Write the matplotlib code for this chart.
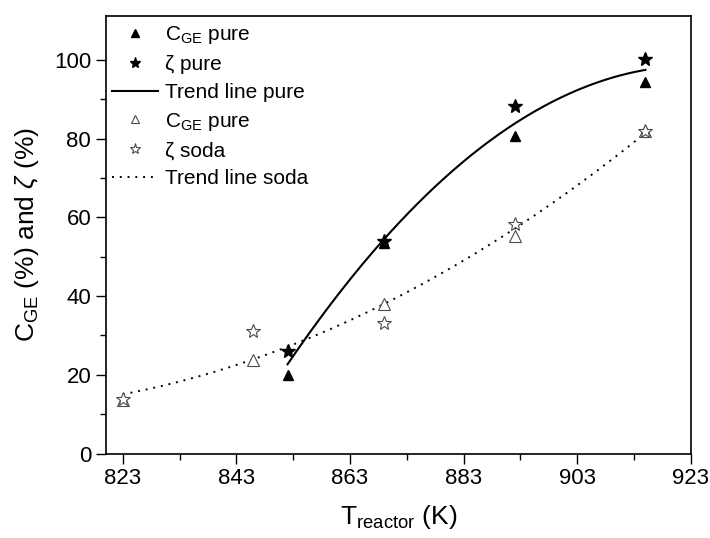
import numpy as np
import matplotlib
matplotlib.use("Agg")
import matplotlib.pyplot as plt
from matplotlib.ticker import FixedLocator

plt.rcParams["font.family"] = ["Liberation Sans", "DejaVu Sans"]
plt.rcParams["mathtext.fontset"] = "custom"
plt.rcParams["mathtext.rm"] = "Liberation Sans"
plt.rcParams["mathtext.it"] = "Liberation Sans:italic"

# Reactor temperature (K)
temp_pure = [852, 869, 892, 915]
temp_soda = [823, 846, 869, 892, 915]

# Conversion C_GE and yield zeta (%)
cge_pure = [19.9, 53.5, 80.8, 94.3]
zeta_pure = [26.1, 54.0, 88.2, 100.3]
cge_soda = [13.5, 23.7, 38.0, 55.3, 82.0]
zeta_soda = [13.9, 31.2, 33.3, 58.4, 82.0]

xticks = [823, 843, 863, 883, 903, 923]
xminor = [833, 853, 873, 893, 913]
yticks = [0, 20, 40, 60, 80, 100]
yminor = [10, 30, 50, 70, 90]

fig = plt.figure(figsize=(7.1, 5.38), dpi=100)
ax = fig.add_axes([0.149, 0.157, 0.824, 0.814])

# Quadratic trend lines through both quantities of each series
p_pure = np.polyfit(temp_pure * 2, cge_pure + zeta_pure, 2)
p_soda = np.polyfit(temp_soda * 2, cge_soda + zeta_soda, 2)
tp = np.linspace(min(temp_pure), max(temp_pure), 200)
ts = np.linspace(min(temp_soda), max(temp_soda), 200)

gray = "#4a4a4a"
h1, = ax.plot(temp_pure, cge_pure, ls="none", marker="^", ms=7.5, color="black",
              label="C$_{\\mathrm{GE}}$ pure", zorder=3)
h2, = ax.plot(temp_pure, zeta_pure, ls="none", marker="*", ms=10, color="black",
              label="ζ pure", zorder=3)
h3, = ax.plot(tp, np.polyval(p_pure, tp), color="black", lw=1.5,
              label="Trend line pure", zorder=2)
h4, = ax.plot(temp_soda, cge_soda, ls="none", marker="^", ms=8, mfc="white",
              mec=gray, mew=0.8, label="C$_{\\mathrm{GE}}$ pure", zorder=3)
h5, = ax.plot(temp_soda, zeta_soda, ls="none", marker="*", ms=10, mfc="white",
              mec=gray, mew=0.8, label="ζ soda", zorder=3)
h6, = ax.plot(ts, np.polyval(p_soda, ts), color="black", lw=1.4, ls=(0, (1, 3)),
              label="Trend line soda", zorder=2)

ax.set_xlim(820, 923)
ax.set_ylim(0, 111.3)
ax.xaxis.set_major_locator(FixedLocator(xticks))
ax.xaxis.set_minor_locator(FixedLocator(xminor))
ax.yaxis.set_major_locator(FixedLocator(yticks))
ax.yaxis.set_minor_locator(FixedLocator(yminor))
ax.tick_params(which="major", direction="out", length=7, width=1.0,
               labelsize=16, top=False, right=False)
ax.tick_params(which="minor", direction="out", length=4, width=1.0,
               top=False, right=False)
for s in ax.spines.values():
    s.set_linewidth(1.2)

ax.set_xlabel("T$_{\\mathrm{reactor}}$ (K)", fontsize=19, labelpad=10)
ax.set_ylabel("C$_{\\mathrm{GE}}$ (%) and $\\zeta$ (%)", fontsize=19, labelpad=9)

ax.legend(handles=[h1, h2, h3, h4, h5, h6], loc="upper left",
          bbox_to_anchor=(0.011, 0.98), frameon=False, fontsize=15,
          handlelength=2.2, handletextpad=0.35, labelspacing=0.42,
          borderpad=0, borderaxespad=0, markerscale=0.8)

fig.savefig("out.png", dpi=100)
